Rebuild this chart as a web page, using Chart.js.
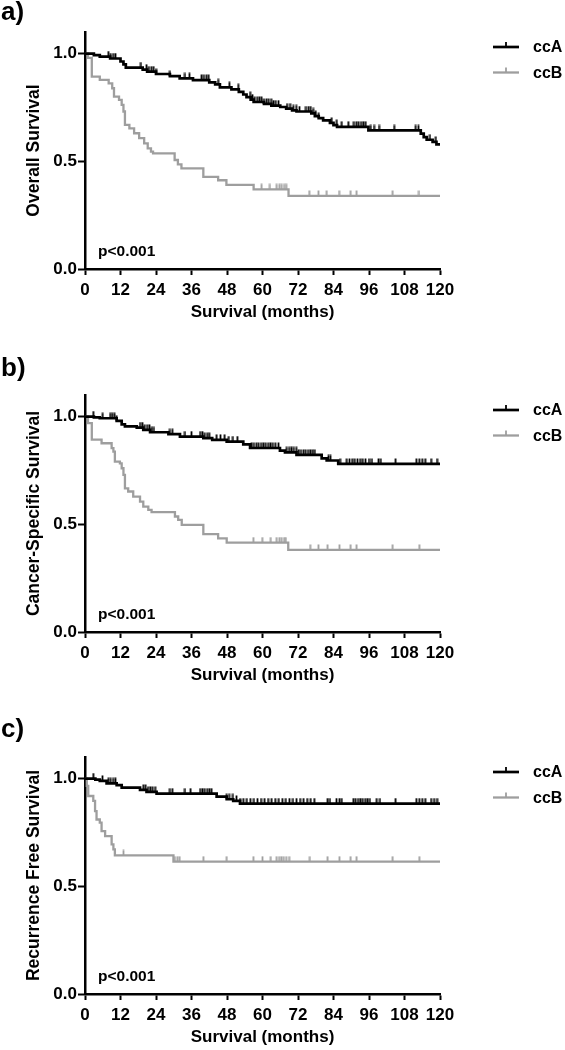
<!DOCTYPE html>
<html>
<head>
<meta charset="utf-8">
<script src="https://cdn.jsdelivr.net/npm/chart.js@4.4.1/dist/chart.umd.min.js"></script>
<style>
  body { margin: 0; background: #fff; width: 565px; height: 1050px; position: relative; overflow: hidden; }
  .panel { position: absolute; left: 0; width: 565px; height: 335px; }
</style>
</head>
<body>
<div class="panel" style="top:-10px"><canvas id="chartOS" width="565" height="335"></canvas></div>
<div class="panel" style="top:353px"><canvas id="chartCSS" width="565" height="335"></canvas></div>
<div class="panel" style="top:715px"><canvas id="chartRFS" width="565" height="335"></canvas></div>

<script>
// --- Data ---
const groupLabels = ['ccA', 'ccB'];
const xTicks = [0, 12, 24, 36, 48, 60, 72, 84, 96, 108, 120];
const yTicks = [0, 0.5, 1.0];

// a) Overall survival: event times (months) and survival after each step
const osTimesA = [3, 5, 8.5, 12, 13, 13.8, 19.5, 21, 24, 28.7, 32, 36.5, 42, 44, 45.6, 49.5, 52, 53.5, 54.6, 56, 57, 60.5, 63, 66, 68, 70, 71.5, 76.5, 77.7, 79, 80.5, 82.8, 84, 85.2, 95.8, 113.5, 114.5, 115.5, 117.5, 118.8];
const osSurvA  = [0.993, 0.986, 0.977, 0.963, 0.95, 0.935, 0.925, 0.916, 0.905, 0.895, 0.885, 0.877, 0.866, 0.857, 0.843, 0.834, 0.822, 0.81, 0.798, 0.786, 0.775, 0.766, 0.758, 0.752, 0.744, 0.736, 0.731, 0.722, 0.71, 0.7, 0.69, 0.678, 0.668, 0.66, 0.643, 0.628, 0.612, 0.6, 0.59, 0.578];
const osCensorA = [7.9, 8.7, 9.5, 10.3, 18.9, 20.8, 21.6, 22.4, 23.2, 24, 28.7, 33.8, 35.3, 39.4, 40.2, 41, 41.8, 45, 48.8, 51.8, 55.8, 56.6, 57.4, 58.2, 59, 59.7, 60.5, 61.3, 62.1, 62.9, 63.7, 64.5, 65.4, 68.3, 69.3, 70.4, 71.4, 72.5, 74.7, 75.5, 76.3, 77.1, 78, 79, 83.4, 85.1, 86.8, 89, 90.9, 91.7, 92.5, 93.3, 94.1, 94.9, 96.6, 97.7, 99.4, 104.5, 111.8, 112.7, 116.6, 118.6];
const osTimesB = [1, 2.3, 5, 8, 9.2, 9.8, 11.5, 12.4, 13, 13.5, 15, 16.6, 18.3, 20, 21.2, 22.3, 23, 30.3, 31.4, 32.6, 40, 45, 47.8, 57, 68.8];
const osSurvB  = [0.98, 0.893, 0.878, 0.862, 0.839, 0.8, 0.785, 0.762, 0.731, 0.669, 0.653, 0.63, 0.607, 0.583, 0.56, 0.545, 0.537, 0.506, 0.486, 0.467, 0.428, 0.412, 0.39, 0.37, 0.339];
const osCensorB = [59.7, 62.5, 64.8, 65.7, 66.5, 67.3, 68, 75.8, 78.9, 81.7, 85.9, 89.8, 91.8, 104, 112.9];

// b) Cancer-specific survival
const cssTimesA = [3, 5, 10.7, 12.4, 13.5, 17.5, 19.7, 22, 28.2, 32.1, 40, 43, 47.9, 53.5, 55.8, 65.9, 67.6, 71.5, 80, 81.7, 85.6];
const cssSurvA  = [0.996, 0.992, 0.98, 0.964, 0.954, 0.949, 0.938, 0.927, 0.918, 0.907, 0.9, 0.892, 0.884, 0.871, 0.854, 0.842, 0.834, 0.822, 0.806, 0.796, 0.78];
const cssCensorA = [2.8, 6, 8.5, 9.2, 10, 10.7, 18.6, 19.4, 20.2, 21, 21.8, 22.6, 23.3, 28.7, 29.5, 33.8, 36, 38.9, 39.7, 40.5, 41.3, 42, 44.5, 45.8, 47.2, 48.6, 50, 51.5, 56.3, 57.1, 57.9, 58.7, 59.5, 60.3, 61.1, 61.9, 62.7, 63.5, 64.3, 65.4, 68.2, 69, 69.8, 70.6, 71.4, 72.2, 73, 73.8, 74.6, 75.4, 76.2, 77, 77.7, 82.3, 83, 86.2, 88.5, 89.4, 90.3, 91.2, 92.1, 93, 93.9, 94.8, 96, 97, 99.2, 100, 105, 112, 113, 114, 115, 117, 119];
const cssTimesB = [1, 2.3, 5.6, 9, 9.6, 10.1, 11.8, 12.4, 13, 13.5, 14.6, 16.3, 18.6, 19.7, 21.4, 22.5, 30.4, 31.5, 32.7, 40, 45, 47.9, 68.7];
const cssSurvB  = [0.969, 0.893, 0.876, 0.853, 0.837, 0.791, 0.783, 0.76, 0.729, 0.667, 0.652, 0.628, 0.605, 0.582, 0.567, 0.556, 0.536, 0.52, 0.497, 0.454, 0.435, 0.415, 0.381];
const cssCensorB = [56.9, 59.9, 62.8, 64.8, 65.7, 66.5, 67.3, 67.9, 76.1, 78.9, 82, 86, 89.8, 91.8, 104, 113];

// c) Recurrence free survival
const rfsTimesA = [3.5, 5, 7.3, 10.7, 12.4, 18.6, 20.8, 24.2, 44.5, 47.9, 50.1, 52.4];
const rfsSurvA  = [0.995, 0.989, 0.978, 0.969, 0.958, 0.947, 0.938, 0.93, 0.916, 0.904, 0.896, 0.884];
const rfsCensorA = [2.8, 5.9, 7.9, 8.7, 9.5, 10.3, 19.7, 20.5, 21.3, 22.1, 22.9, 23.7, 28.7, 29.5, 33.8, 35.7, 38.9, 39.7, 40.5, 41.3, 42.1, 42.8, 47.9, 48.7, 50, 51.2, 52.4, 53.5, 54.7, 55.9, 57.1, 58.3, 59.5, 60.7, 61.9, 63.1, 64.3, 65.5, 66.7, 67.9, 69.1, 70.3, 71.5, 72.7, 73.9, 75.1, 76.3, 77.5, 82, 82.8, 85, 86, 86.8, 90.7, 91.5, 92.3, 93.1, 93.9, 94.7, 95.5, 96.3, 98.6, 99.7, 105, 112, 113, 114, 115, 117, 118, 119];
const rfsTimesB = [0.6, 1.1, 2.8, 3.4, 3.9, 5, 5.6, 6.8, 9, 9.6, 10.1, 29.9];
const rfsSurvB  = [0.966, 0.919, 0.896, 0.849, 0.81, 0.795, 0.756, 0.733, 0.694, 0.671, 0.643, 0.614];
const rfsCensorB = [13, 30.4, 31.2, 32, 40, 47.9, 56.9, 60, 62.8, 64.8, 65.6, 66.4, 67.2, 68, 69, 76, 82, 86, 89.8, 91.8, 104, 113];

// --- Styling ---
const BLACK = '#000000';
const GREY = '#9e9e9e';
const FONT = "'Liberation Sans', Arial, sans-serif";

// build step-curve points from event times
function kmPoints(times, surv) {
    const pts = [{ x: 0, y: 1 }];
    times.forEach((t, i) => pts.push({ x: t, y: surv[i] }));
    pts.push({ x: 120, y: surv[surv.length - 1] });
    return pts;
}

// censor marks sit on the curve level at their time
function censorPoints(times, surv, censor) {
    return censor.map(c => {
        let s = 1;
        for (let i = 0; i < times.length; i++) {
            if (times[i] <= c) s = surv[i];
        }
        return { x: c, y: s };
    });
}

// small upward tick used as the censor marker
function makeTick(color) {
    const c = document.createElement('canvas');
    c.width = 3;
    c.height = 12;
    const g = c.getContext('2d');
    g.strokeStyle = color;
    g.lineWidth = 1.8;
    g.beginPath();
    g.moveTo(1.5, 0.5);
    g.lineTo(1.5, 6);
    g.stroke();
    return c;
}
const tickBlack = makeTick(BLACK);
const tickGrey = makeTick(GREY);

// panel letter, p-value and legend
const panelDecor = {
    id: 'panelDecor',
    afterDraw(chart, args, opts) {
        const { ctx, chartArea } = chart;
        ctx.save();
        ctx.fillStyle = BLACK;
        ctx.textBaseline = 'alphabetic';
        ctx.textAlign = 'left';
        ctx.font = `bold 26px ${FONT}`;
        ctx.fillText(opts.letter, 1, opts.letterY);

        ctx.font = `bold 15.5px ${FONT}`;
        ctx.textBaseline = 'middle';
        ctx.fillText('p<0.001', chartArea.left + 13, chartArea.bottom - 17);

        // legend
        const rows = [chartArea.top + 15, chartArea.top + 40.5];
        chart.data.datasets.slice(0, 2).forEach((ds, i) => {
            const y = rows[i];
            ctx.strokeStyle = ds.borderColor;
            ctx.lineWidth = ds.borderWidth;
            ctx.beginPath();
            ctx.moveTo(493, y);
            ctx.lineTo(519, y);
            ctx.stroke();
            ctx.lineWidth = 1.8;
            ctx.beginPath();
            ctx.moveTo(506, y);
            ctx.lineTo(506, y - 5);
            ctx.stroke();
            ctx.fillStyle = BLACK;
            ctx.font = `bold 16px ${FONT}`;
            ctx.fillText(ds.label, 533, y + 1);
        });
        ctx.restore();
    }
};

function buildPanel(id, letter, letterY, yTitle, timesA, survA, censA, timesB, survB, censB) {
    new Chart(document.getElementById(id), {
        type: 'line',
        data: {
            datasets: [
                { label: groupLabels[0], data: kmPoints(timesA, survA), borderColor: BLACK, borderWidth: 2.7, stepped: true, pointRadius: 0 },
                { label: groupLabels[1], data: kmPoints(timesB, survB), borderColor: GREY, borderWidth: 2.3, stepped: true, pointRadius: 0 },
                { label: groupLabels[0] + ' censored', data: censorPoints(timesA, survA, censA), showLine: false, pointStyle: tickBlack, pointRadius: 3 },
                { label: groupLabels[1] + ' censored', data: censorPoints(timesB, survB, censB), showLine: false, pointStyle: tickGrey, pointRadius: 3 }
            ]
        },
        options: {
            responsive: false,
            animation: false,
            events: [],
            layout: { padding: { top: 42, right: 125, left: 0, bottom: 0 } },
            plugins: {
                legend: { display: false },
                tooltip: { enabled: false },
                panelDecor: { letter: letter, letterY: letterY }
            },
            scales: {
                x: {
                    type: 'linear',
                    min: 0,
                    max: 120,
                    afterBuildTicks: s => { s.ticks = xTicks.map(v => ({ value: v })); },
                    afterFit: s => { s.height = 56; },
                    border: { display: true, color: BLACK, width: 2.5 },
                    grid: { drawOnChartArea: false, drawTicks: true, tickLength: 6, tickWidth: 2, tickColor: BLACK },
                    ticks: { color: BLACK, padding: 5, maxRotation: 0, font: { family: FONT, weight: 'bold', size: 17 } },
                    title: { display: true, text: 'Survival (months)', color: BLACK, padding: { top: 0, bottom: 2 }, font: { family: FONT, weight: 'bold', size: 17 } }
                },
                y: {
                    min: 0,
                    max: 1.1,
                    afterBuildTicks: s => { s.ticks = yTicks.map(v => ({ value: v })); },
                    afterFit: s => { s.width = 85; },
                    border: { display: true, color: BLACK, width: 2.5 },
                    grid: { drawOnChartArea: false, drawTicks: true, tickLength: 7, tickWidth: 2, tickColor: BLACK },
                    ticks: { color: BLACK, padding: 1, callback: v => v.toFixed(1), font: { family: FONT, weight: 'bold', size: 17 } },
                    title: { display: true, text: yTitle, color: BLACK, padding: { top: 24, bottom: 0 }, font: { family: FONT, weight: 'bold', size: 17.5 } }
                }
            }
        },
        plugins: [panelDecor]
    });
}

buildPanel('chartOS', 'a)', 30, 'Overall Survival', osTimesA, osSurvA, osCensorA, osTimesB, osSurvB, osCensorB);
buildPanel('chartCSS', 'b)', 23, 'Cancer-Specific Survival', cssTimesA, cssSurvA, cssCensorA, cssTimesB, cssSurvB, cssCensorB);
buildPanel('chartRFS', 'c)', 22, 'Recurrence Free Survival', rfsTimesA, rfsSurvA, rfsCensorA, rfsTimesB, rfsSurvB, rfsCensorB);
</script>
</body>
</html>
